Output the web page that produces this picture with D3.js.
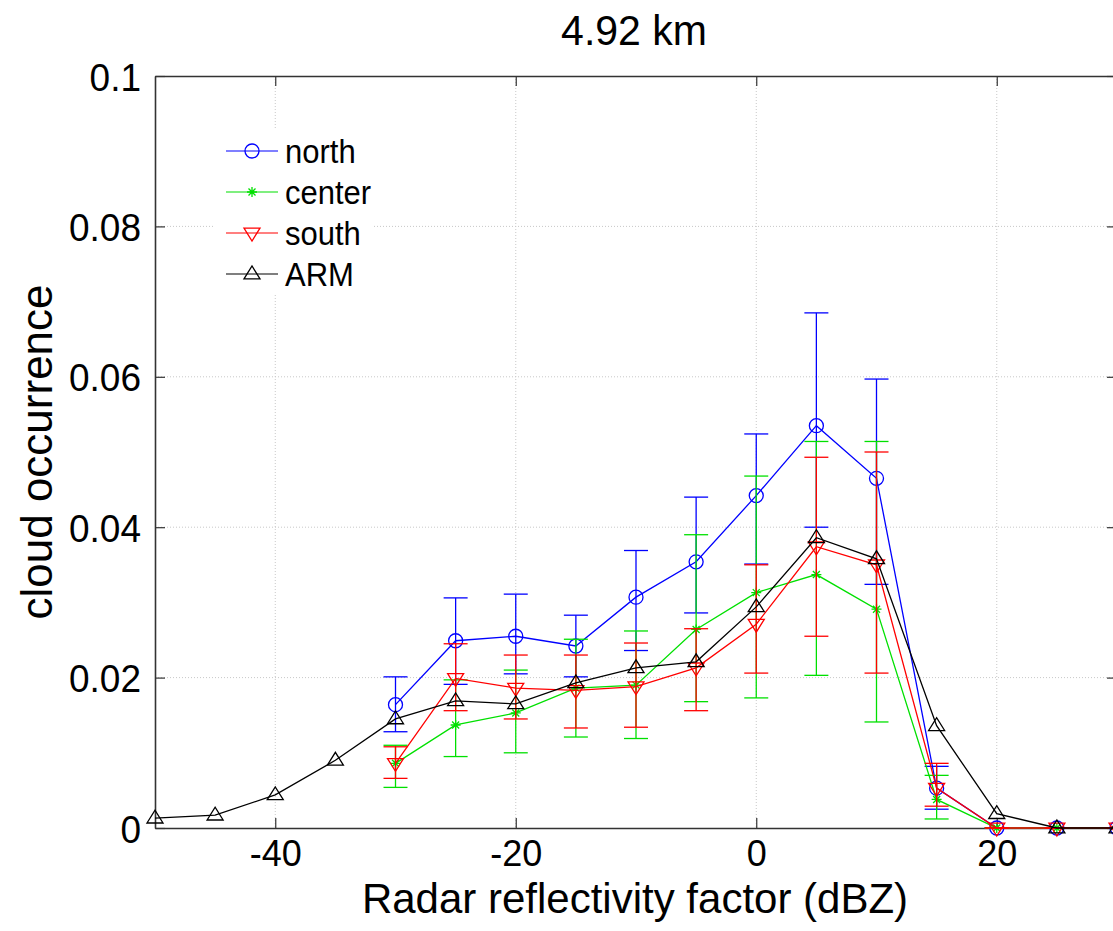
<!DOCTYPE html>
<html>
<head>
<meta charset="utf-8">
<script src="https://cdn.jsdelivr.net/npm/d3@7"></script>
<style>
  html, body { margin: 0; padding: 0; background: #fff; overflow: hidden; }
  text { font-family: "Liberation Sans", Arial, Helvetica, sans-serif; }
</style>
</head>
<body>
<svg id="chart" width="1113" height="931"></svg>
<script>
// ---- data ----
const dbz = [-50, -45, -40, -35, -30, -25, -20, -15, -10, -5, 0, 5, 10, 15, 20, 25, 30];

const north = [null, null, null, null, 0.0164, 0.0249, 0.0255, 0.0242, 0.0307, 0.0354, 0.0442, 0.0535, 0.0465, 0.0053, 0, 0, 0];
const northLow = [null, null, null, null, 0.0128, 0.0191, 0.0205, 0.0201, 0.0236, 0.0286, 0.0351, 0.0400, 0.0324, 0.0025, 0, 0, 0];
const northHigh = [null, null, null, null, 0.0201, 0.0306, 0.0311, 0.0283, 0.0369, 0.0440, 0.0524, 0.0685, 0.0597, 0.0082, 0, 0, 0];

const center = [null, null, null, null, 0.0086, 0.0137, 0.0153, 0.0186, 0.0190, 0.0264, 0.0313, 0.0337, 0.0291, 0.0038, 0, 0, 0];
const centerLow = [null, null, null, null, 0.0054, 0.0095, 0.0100, 0.0121, 0.0119, 0.0168, 0.0173, 0.0203, 0.0141, 0.0012, 0, 0, 0];
const centerHigh = [null, null, null, null, 0.0110, 0.0197, 0.0210, 0.0251, 0.0262, 0.0390, 0.0468, 0.0514, 0.0514, 0.0070, 0, 0, 0];

const south = [null, null, null, null, 0.0086, 0.0199, 0.0186, 0.0183, 0.0188, 0.0213, 0.0271, 0.0374, 0.0350, 0.0053, 0, 0, 0];
const southLow = [null, null, null, null, 0.0066, 0.0156, 0.0145, 0.0133, 0.0134, 0.0156, 0.0206, 0.0255, 0.0206, 0.0029, 0, 0, 0];
const southHigh = [null, null, null, null, 0.0108, 0.0245, 0.0230, 0.0230, 0.0246, 0.0265, 0.0350, 0.0493, 0.0500, 0.0086, 0, 0, 0];

const arm = [0.0013, 0.0017, 0.0044, 0.0090, 0.0145, 0.0169, 0.0165, 0.0193, 0.0213, 0.0221, 0.0294, 0.0386, 0.0358, 0.0136, 0.0019, 0, 0];

const xTicks = [-40, -20, 0, 20];
const xTickLabels = ["-40", "-20", "0", "20"];
const yTicks = [0, 0.02, 0.04, 0.06, 0.08, 0.1];
const yTickLabels = ["0", "0.02", "0.04", "0.06", "0.08", "0.1"];
const seriesNames = ["north", "center", "south", "ARM"];
const titleText = "4.92 km";
const xLabel = "Radar reflectivity factor (dBZ)";
const yLabel = "cloud occurrence";

// ---- layout ----
const svg = d3.select("#chart");
const L = 155, R = 1117, T = 76, B = 828;
const x = d3.scaleLinear().domain([-50, 30]).range([L, R]);
const y = d3.scaleLinear().domain([0, 0.1]).range([B, T]);
const stretch = 1.06;

// gridlines
const grid = svg.append("g");
grid.selectAll("line.gx").data(xTicks).join("line")
  .attr("x1", d => x(d)).attr("x2", d => x(d)).attr("y1", T).attr("y2", B)
  .attr("stroke", "#c8c8c8").attr("stroke-width", 1).attr("stroke-dasharray", "1,2");
grid.selectAll("line.gy").data(yTicks.filter(d => d > 0 && d < 0.1)).join("line")
  .attr("x1", L).attr("x2", R).attr("y1", d => y(d)).attr("y2", d => y(d))
  .attr("stroke", "#c8c8c8").attr("stroke-width", 1).attr("stroke-dasharray", "1,2");

// axes (ticks pointing inward)
const xAxisB = d3.axisBottom(x).tickValues(xTicks).tickSizeInner(-10).tickSizeOuter(0).tickPadding(12)
  .tickFormat((d, i) => xTickLabels[i]);
const gxB = svg.append("g").attr("transform", `translate(0,${B})`).call(xAxisB);
const xAxisT = d3.axisTop(x).tickValues(xTicks).tickSizeInner(-10).tickSizeOuter(0).tickFormat("");
const gxT = svg.append("g").attr("transform", `translate(0,${T})`).call(xAxisT);
const yAxisL = d3.axisLeft(y).tickValues(yTicks).tickSizeInner(-10).tickSizeOuter(0).tickPadding(14)
  .tickFormat((d, i) => yTickLabels[i]);
const gyL = svg.append("g").attr("transform", `translate(${L},0)`).call(yAxisL);
const yAxisR = d3.axisRight(y).tickValues(yTicks).tickSizeInner(-10).tickSizeOuter(0).tickFormat("");
const gyR = svg.append("g").attr("transform", `translate(${R},0)`).call(yAxisR);

[gxB, gxT, gyL, gyR].forEach(g => {
  g.select(".domain").attr("stroke", "#333").attr("stroke-width", 1.6);
  g.selectAll(".tick line").attr("stroke", "#333").attr("stroke-width", 1.2);
  g.selectAll("text").attr("fill", "#000")
    .style("font-family", "'Liberation Sans', Arial, sans-serif");
});
gxB.selectAll("text").attr("font-size", 36).attr("dy", "0.71em");
gyL.selectAll("text").attr("font-size", 37).attr("dy", "0.36em").attr("transform", `scale(1,${stretch})`);

// title and labels
svg.append("text").attr("transform", `translate(634,45) scale(1,${stretch})`).attr("text-anchor", "middle")
  .attr("font-size", 41).text(titleText);
svg.append("text").attr("x", 635).attr("y", 913).attr("text-anchor", "middle")
  .attr("font-size", 42).text(xLabel);
svg.append("text").attr("transform", "translate(52,452) rotate(-90)").attr("text-anchor", "middle")
  .attr("font-size", 44).text(yLabel);

// series
const colors = { north: "#0000ff", center: "#00e000", south: "#ff0000", ARM: "#000000" };
const defs = [
  { name: "north", vals: north, lo: northLow, hi: northHigh, marker: "circle" },
  { name: "center", vals: center, lo: centerLow, hi: centerHigh, marker: "star" },
  { name: "south", vals: south, lo: southLow, hi: southHigh, marker: "tridown" },
  { name: "ARM", vals: arm, lo: null, hi: null, marker: "triup" }
];

function drawMarker(g, type, cx, cy, color) {
  if (type === "circle") {
    g.append("circle").attr("cx", cx).attr("cy", cy).attr("r", 7)
      .attr("fill", "none").attr("stroke", color).attr("stroke-width", 1.3);
  } else if (type === "star") {
    const s = 5;
    const p = `M${cx - s},${cy}L${cx + s},${cy}M${cx},${cy - s}L${cx},${cy + s}` +
      `M${cx - s * 0.7},${cy - s * 0.7}L${cx + s * 0.7},${cy + s * 0.7}M${cx - s * 0.7},${cy + s * 0.7}L${cx + s * 0.7},${cy - s * 0.7}`;
    g.append("path").attr("d", p).attr("stroke", color).attr("stroke-width", 1.3).attr("fill", "none");
  } else if (type === "tridown") {
    const s = 8;
    g.append("path").attr("d", `M${cx - s},${cy - s * 0.6}L${cx + s},${cy - s * 0.6}L${cx},${cy + s}Z`)
      .attr("fill", "none").attr("stroke", color).attr("stroke-width", 1.3);
  } else {
    const s = 8;
    g.append("path").attr("d", `M${cx - s},${cy + s * 0.6}L${cx + s},${cy + s * 0.6}L${cx},${cy - s}Z`)
      .attr("fill", "none").attr("stroke", color).attr("stroke-width", 1.3);
  }
}

const line = d3.line().defined(d => d.v !== null).x(d => x(d.x)).y(d => y(d.v));
const cap = 12;

defs.forEach(s => {
  const c = colors[s.name];
  const g = svg.append("g");
  const pts = dbz.map((xx, i) => ({ x: xx, v: s.vals[i], lo: s.lo ? s.lo[i] : null, hi: s.hi ? s.hi[i] : null }));
  if (s.lo) {
    pts.filter(d => d.v !== null && d.lo !== null).forEach(d => {
      const px = x(d.x);
      g.append("line").attr("x1", px).attr("x2", px).attr("y1", y(d.lo)).attr("y2", y(d.hi))
        .attr("stroke", c).attr("stroke-width", 1.3);
      g.append("line").attr("x1", px - cap).attr("x2", px + cap).attr("y1", y(d.lo)).attr("y2", y(d.lo))
        .attr("stroke", c).attr("stroke-width", 1.3);
      g.append("line").attr("x1", px - cap).attr("x2", px + cap).attr("y1", y(d.hi)).attr("y2", y(d.hi))
        .attr("stroke", c).attr("stroke-width", 1.3);
    });
  }
  g.append("path").datum(pts).attr("d", line).attr("fill", "none").attr("stroke", c).attr("stroke-width", 1.3);
  pts.filter(d => d.v !== null).forEach(d => drawMarker(g, s.marker, x(d.x), y(d.v), c));
});

// legend
const lg = svg.append("g");
lg.append("rect").attr("x", 214).attr("y", 128).attr("width", 160).attr("height", 166).attr("fill", "#fff");
const legY = [151, 192, 233, 274];
defs.forEach((s, i) => {
  const c = colors[s.name];
  const yy = legY[i];
  lg.append("line").attr("x1", 226).attr("x2", 278).attr("y1", yy).attr("y2", yy)
    .attr("stroke", c).attr("stroke-width", 1.2);
  drawMarker(lg, s.marker, 252, yy, c);
  lg.append("text").attr("transform", `translate(285,${yy}) scale(1,${stretch})`).attr("dy", "0.36em")
    .attr("font-size", 31).text(seriesNames[i]);
});
</script>
</body>
</html>
